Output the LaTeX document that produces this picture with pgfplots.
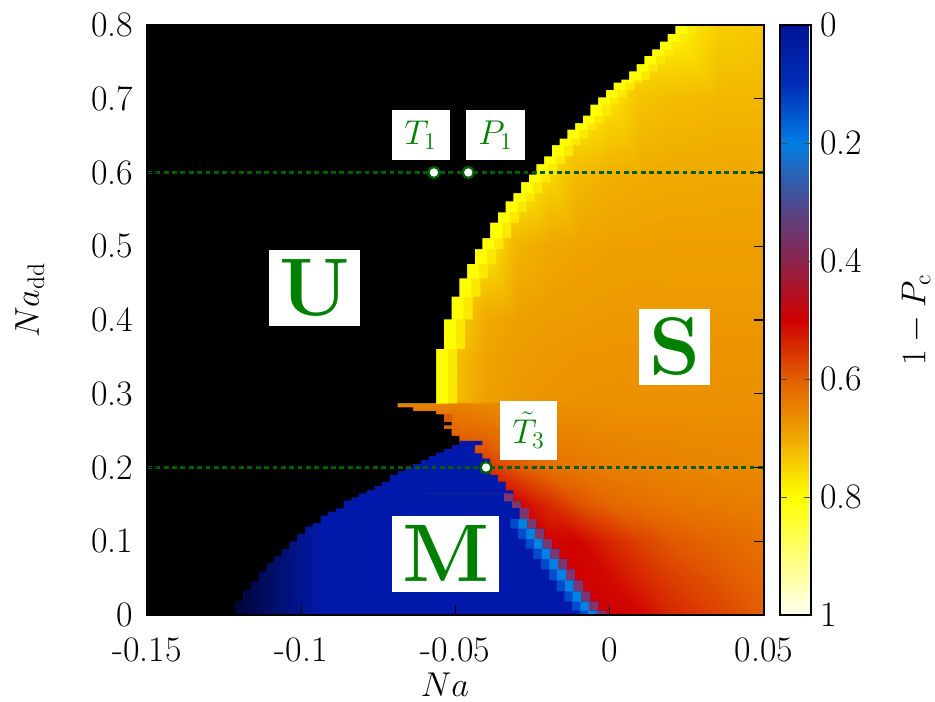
\documentclass[border=0pt]{standalone}
\usepackage{pgfplots}
\pgfplotsset{compat=1.18}
\usepackage{pgfplotstable}

\definecolor{lgreen}{RGB}{0,128,0}
\definecolor{dgreen}{RGB}{0,95,0}
\definecolor{bmain}{RGB}{0,25,170}
\definecolor{bdark}{RGB}{0,5,55}
\definecolor{bdmid}{RGB}{0,15,115}
\definecolor{bmid}{RGB}{0,75,205}
\definecolor{blight}{RGB}{0,130,228}
\definecolor{bpurp}{RGB}{125,55,110}
\definecolor{yedge}{RGB}{255,255,0}
\definecolor{yband}{RGB}{251,234,0}
\definecolor{tbarA}{RGB}{222,92,0}
\definecolor{tbarB}{RGB}{226,108,0}

% upper unstable (black) region, above the tongue
\pgfplotstableread{
x y
-0.15 0.8
0.02125 0.8
0.02125 0.788
0.01875 0.788
0.01875 0.7775
0.01625 0.7775
0.01625 0.767
0.01375 0.767
0.01375 0.758
0.01125 0.758
0.01125 0.747
0.00875 0.747
0.00875 0.737
0.00625 0.737
0.00625 0.726
0.00375 0.726
0.00375 0.722
0.00125 0.722
0.00125 0.712
-0.00125 0.712
-0.00125 0.702
-0.00375 0.702
-0.00375 0.692
-0.00625 0.692
-0.00625 0.677
-0.00875 0.677
-0.00875 0.667
-0.01125 0.667
-0.01125 0.658
-0.01375 0.658
-0.01375 0.646
-0.01625 0.646
-0.01625 0.637
-0.01875 0.637
-0.01875 0.622
-0.02125 0.622
-0.02125 0.6115
-0.02375 0.6115
-0.02375 0.597
-0.02625 0.597
-0.02625 0.587
-0.02875 0.587
-0.02875 0.572
-0.03125 0.572
-0.03125 0.561
-0.03375 0.561
-0.03375 0.546
-0.03625 0.546
-0.03625 0.532
-0.03875 0.532
-0.03875 0.511
-0.04125 0.511
-0.04125 0.496
-0.04375 0.496
-0.04375 0.476
-0.04625 0.476
-0.04625 0.4565
-0.04875 0.4565
-0.04875 0.4316
-0.05125 0.4316
-0.05125 0.401
-0.05375 0.401
-0.05375 0.3607
-0.05625 0.3607
-0.05625 0.287
-0.15 0.287
}\upperblack

% lower unstable (black) region with the tongue
\pgfplotstableread{
x y
-0.15 0.29
-0.06875 0.29
-0.06875 0.2815
-0.06375 0.2815
-0.06375 0.2765
-0.05625 0.2765
-0.05625 0.272
-0.05375 0.272
-0.05375 0.262
-0.05125 0.262
-0.05125 0.257
-0.05375 0.257
-0.05375 0.2525
-0.05125 0.2525
-0.05125 0.243
-0.04875 0.243
-0.04875 0
-0.15 0
}\lowerblack

% metastable (blue) region
\pgfplotstableread{
x y
-0.04875 0.236
-0.04125 0.236
-0.04125 0.2305
-0.04375 0.2305
-0.04375 0.219
-0.04125 0.219
-0.04125 0.212
-0.03875 0.212
-0.03875 0.19
-0.03625 0.19
-0.03625 0.181
-0.03375 0.181
-0.03375 0.169
-0.03125 0.169
-0.03125 0.154
-0.02875 0.154
-0.02875 0.145
-0.02625 0.145
-0.02625 0.13
-0.02375 0.13
-0.02375 0.117
-0.02125 0.117
-0.02125 0.103
-0.01875 0.103
-0.01875 0.09
-0.01625 0.09
-0.01625 0.076
-0.01375 0.076
-0.01375 0.062
-0.01125 0.062
-0.01125 0.047
-0.00875 0.047
-0.00875 0.032
-0.00625 0.032
-0.00625 0.018
-0.00375 0.018
-0.00375 0.006
-0.00125 0.006
-0.00125 0
-0.12125 0
-0.12125 0.018
-0.11875 0.018
-0.11875 0.033
-0.11625 0.033
-0.11625 0.045
-0.11375 0.045
-0.11375 0.0587
-0.11125 0.0587
-0.11125 0.070
-0.10875 0.070
-0.10875 0.079
-0.10625 0.079
-0.10625 0.089
-0.10375 0.089
-0.10375 0.0994
-0.10125 0.0994
-0.10125 0.1094
-0.09875 0.1094
-0.09875 0.1197
-0.09625 0.1197
-0.09625 0.1243
-0.09375 0.1243
-0.09375 0.1346
-0.09125 0.1346
-0.09125 0.140
-0.08875 0.140
-0.08875 0.1446
-0.08625 0.1446
-0.08625 0.1546
-0.08375 0.1546
-0.08375 0.1595
-0.08125 0.1595
-0.08125 0.165
-0.07875 0.165
-0.07875 0.1695
-0.07625 0.1695
-0.07625 0.1749
-0.07375 0.1749
-0.07375 0.1807
-0.07125 0.1807
-0.07125 0.1898
-0.06875 0.1898
-0.06875 0.195
-0.06625 0.195
-0.06625 0.1997
-0.06375 0.1997
-0.06375 0.2047
-0.06125 0.2047
-0.06125 0.210
-0.05875 0.210
-0.05875 0.2156
-0.05625 0.2156
-0.05625 0.220
-0.05375 0.220
-0.05375 0.225
-0.05125 0.225
-0.05125 0.2305
-0.04875 0.2305
}\blueregion

% dark left part of the blue region
\pgfplotstableread{
x y
-0.12125 0
-0.12125 0.018
-0.11875 0.018
-0.11875 0.033
-0.11625 0.033
-0.11625 0.045
-0.11375 0.045
-0.11375 0.0587
-0.11125 0.0587
-0.11125 0.070
-0.10875 0.070
-0.10875 0.079
-0.10625 0.079
-0.10625 0.089
-0.10375 0.089
-0.10375 0.0994
-0.10125 0.0994
-0.10125 0.1094
-0.09875 0.1094
-0.09875 0.1197
-0.09625 0.1197
-0.09625 0.1243
-0.09375 0.1243
-0.09375 0
}\darkpart

% lower right edge of the blue region (fringe)
\pgfplotstableread{
x y
-0.06 0.165
-0.03125 0.165
-0.03125 0.154
-0.02875 0.154
-0.02875 0.145
-0.02625 0.145
-0.02625 0.13
-0.02375 0.13
-0.02375 0.117
-0.02125 0.117
-0.02125 0.103
-0.01875 0.103
-0.01875 0.09
-0.01625 0.09
-0.01625 0.076
-0.01375 0.076
-0.01375 0.062
-0.01125 0.062
-0.01125 0.047
-0.00875 0.047
-0.00875 0.032
-0.00625 0.032
-0.00625 0.018
-0.00375 0.018
-0.00375 0.006
-0.00125 0.006
-0.00125 0
-0.06 0
}\fringe

\pgfplotstableread{
x y
-0.06 0.13
-0.02375 0.13
-0.02375 0.117
-0.02125 0.117
-0.02125 0.103
-0.01875 0.103
-0.01875 0.09
-0.01625 0.09
-0.01625 0.076
-0.01375 0.076
-0.01375 0.062
-0.01125 0.062
-0.01125 0.047
-0.00875 0.047
-0.00875 0.032
-0.00625 0.032
-0.00625 0.018
-0.00375 0.018
-0.00375 0.006
-0.00125 0.006
-0.00125 0
-0.06 0
}\fringelow

\begin{document}
\begin{tikzpicture}
\begin{axis}[
  name=main,
  scale only axis, width=308.5bp, height=295bp,
  xmin=-0.15, xmax=0.05, ymin=0, ymax=0.8,
  axis background/.style={fill=black},
  axis on top,
  tick align=inside,
  major tick length=5bp,
  every tick/.style={black, line width=0.6pt},
  axis line style={line width=0.7pt},
  xtick={-0.15,-0.1,-0.05,0,0.05},
  xticklabels={-0.15,-0.1,-0.05,0,0.05},
  ytick={0,0.1,0.2,0.3,0.4,0.5,0.6,0.7,0.8},
  yticklabels={0,0.1,0.2,0.3,0.4,0.5,0.6,0.7,0.8},
  tick label style={font=\fontsize{18}{21}\selectfont},
  xticklabel style={yshift=-8bp},
  yticklabel style={xshift=-3.5bp},
  xlabel={$Na$}, ylabel={$Na_{\mathrm{dd}}$},
  label style={font=\fontsize{18}{21}\selectfont, inner sep=1bp},
  xlabel style={at={(axis description cs:0.483,-0.1186)}, anchor=center},
  ylabel style={at={(axis description cs:-0.19,0.534)}, anchor=center},
  colormap={pc}{rgb255=(0,20,150) rgb255=(0,45,185) rgb255=(0,125,225)
    rgb255=(75,75,145) rgb255=(140,35,75) rgb255=(208,0,0) rgb255=(226,95,0)
    rgb255=(240,168,0) rgb255=(255,255,0) rgb255=(255,255,120) rgb255=(255,255,240)},
  point meta min=0, point meta max=1,
  colorbar,
  colorbar style={
    name=cbar,
    width=15.5bp,
    at={(parent axis.north east)}, anchor=north west, xshift=-0.5bp,
    y dir=reverse,
    ytick={0,0.2,0.4,0.6,0.8,1},
    yticklabels={0,0.2,0.4,0.6,0.8,1},
    yticklabel style={font=\fontsize{18}{21}\selectfont, xshift=1bp},
    ytick pos=both, yticklabel pos=right,
    tick align=inside, major tick length=3.5bp,
    every tick/.style={black!70, line width=0.5pt},
    axis line style={line width=0.7pt},
    ylabel={$1-P_{\mathrm{c}}$},
    ylabel style={font=\fontsize{18}{21}\selectfont, inner sep=1bp, at={(axis description cs:4.39,0.5)}, anchor=center},
  },
]
% stable region: 1-Pc values on a coarse grid
\addplot[surf, shader=interp, mesh/rows=14, mesh/cols=12, point meta=explicit]
  table[row sep=\\, meta=v] {
x y v\\
-0.07 0 0.5\\ -0.06 0 0.5\\ -0.05 0 0.5\\ -0.04 0 0.5\\ -0.03 0 0.5\\ -0.02 0 0.5\\ -0.01 0 0.5\\ 0 0 0.5\\ 0.01 0 0.505\\ 0.02 0 0.54\\ 0.035 0 0.57\\ 0.05 0 0.60\\
-0.07 0.05 0.5\\ -0.06 0.05 0.5\\ -0.05 0.05 0.5\\ -0.04 0.05 0.5\\ -0.03 0.05 0.5\\ -0.02 0.05 0.5\\ -0.01 0.05 0.5\\ 0 0.05 0.51\\ 0.01 0.05 0.54\\ 0.02 0.05 0.565\\ 0.035 0.05 0.59\\ 0.05 0.05 0.612\\
-0.07 0.1 0.5\\ -0.06 0.1 0.5\\ -0.05 0.1 0.5\\ -0.04 0.1 0.5\\ -0.03 0.1 0.5\\ -0.02 0.1 0.5\\ -0.01 0.1 0.505\\ 0 0.1 0.54\\ 0.01 0.1 0.57\\ 0.02 0.1 0.592\\ 0.035 0.1 0.61\\ 0.05 0.1 0.625\\
-0.07 0.15 0.5\\ -0.06 0.15 0.5\\ -0.05 0.15 0.5\\ -0.04 0.15 0.5\\ -0.03 0.15 0.5\\ -0.02 0.15 0.545\\ -0.01 0.15 0.585\\ 0 0.15 0.61\\ 0.01 0.15 0.622\\ 0.02 0.15 0.63\\ 0.035 0.15 0.637\\ 0.05 0.15 0.643\\
-0.07 0.2 0.56\\ -0.06 0.2 0.56\\ -0.05 0.2 0.56\\ -0.04 0.2 0.555\\ -0.03 0.2 0.59\\ -0.02 0.2 0.62\\ -0.01 0.2 0.632\\ 0 0.2 0.64\\ 0.01 0.2 0.645\\ 0.02 0.2 0.648\\ 0.035 0.2 0.652\\ 0.05 0.2 0.655\\
-0.07 0.25 0.61\\ -0.06 0.25 0.61\\ -0.05 0.25 0.61\\ -0.04 0.25 0.62\\ -0.03 0.25 0.635\\ -0.02 0.25 0.645\\ -0.01 0.25 0.652\\ 0 0.25 0.655\\ 0.01 0.25 0.657\\ 0.02 0.25 0.658\\ 0.035 0.25 0.66\\ 0.05 0.25 0.66\\
-0.07 0.286 0.645\\ -0.06 0.286 0.645\\ -0.05 0.286 0.645\\ -0.04 0.286 0.655\\ -0.03 0.286 0.662\\ -0.02 0.286 0.665\\ -0.01 0.286 0.667\\ 0 0.286 0.668\\ 0.01 0.286 0.668\\ 0.02 0.286 0.668\\ 0.035 0.286 0.667\\ 0.05 0.286 0.666\\
-0.07 0.29 0.79\\ -0.06 0.29 0.79\\ -0.05 0.29 0.725\\ -0.04 0.29 0.69\\ -0.03 0.29 0.678\\ -0.02 0.29 0.672\\ -0.01 0.29 0.669\\ 0 0.29 0.668\\ 0.01 0.29 0.667\\ 0.02 0.29 0.667\\ 0.035 0.29 0.667\\ 0.05 0.29 0.667\\
-0.07 0.35 0.79\\ -0.06 0.35 0.79\\ -0.05 0.35 0.728\\ -0.04 0.35 0.694\\ -0.03 0.35 0.682\\ -0.02 0.35 0.677\\ -0.01 0.35 0.674\\ 0 0.35 0.673\\ 0.01 0.35 0.672\\ 0.02 0.35 0.672\\ 0.035 0.35 0.672\\ 0.05 0.35 0.672\\
-0.07 0.4 0.79\\ -0.06 0.4 0.79\\ -0.05 0.4 0.75\\ -0.04 0.4 0.701\\ -0.03 0.4 0.689\\ -0.02 0.4 0.6835\\ -0.01 0.4 0.680\\ 0 0.4 0.678\\ 0.01 0.4 0.677\\ 0.02 0.4 0.677\\ 0.035 0.4 0.677\\ 0.05 0.4 0.677\\
-0.07 0.5 0.79\\ -0.06 0.5 0.79\\ -0.05 0.5 0.79\\ -0.04 0.5 0.77\\ -0.03 0.5 0.714\\ -0.02 0.5 0.700\\ -0.01 0.5 0.694\\ 0 0.5 0.690\\ 0.01 0.5 0.689\\ 0.02 0.5 0.688\\ 0.035 0.5 0.688\\ 0.05 0.5 0.688\\
-0.07 0.6 0.79\\ -0.06 0.6 0.79\\ -0.05 0.6 0.79\\ -0.04 0.6 0.79\\ -0.03 0.6 0.79\\ -0.02 0.6 0.755\\ -0.01 0.6 0.72\\ 0 0.6 0.709\\ 0.01 0.6 0.704\\ 0.02 0.6 0.702\\ 0.035 0.6 0.70\\ 0.05 0.6 0.70\\
-0.07 0.7 0.79\\ -0.06 0.7 0.79\\ -0.05 0.7 0.79\\ -0.04 0.7 0.79\\ -0.03 0.7 0.79\\ -0.02 0.7 0.79\\ -0.01 0.7 0.79\\ 0 0.7 0.765\\ 0.01 0.7 0.731\\ 0.02 0.7 0.723\\ 0.035 0.7 0.718\\ 0.05 0.7 0.716\\
-0.07 0.8 0.79\\ -0.06 0.8 0.79\\ -0.05 0.8 0.79\\ -0.04 0.8 0.79\\ -0.03 0.8 0.79\\ -0.02 0.8 0.79\\ -0.01 0.8 0.79\\ 0 0.8 0.79\\ 0.01 0.8 0.79\\ 0.02 0.8 0.79\\ 0.035 0.8 0.745\\ 0.05 0.8 0.735\\
};
% bright yellow edge of the stable region
\addplot[fill=yband, draw=none] table[x expr=\thisrow{x}+0.0068, y=y] {\upperblack};
\addplot[fill=yedge, draw=none] table[x expr=\thisrow{x}+0.0038, y=y] {\upperblack};
% darker cells in the tongue
\addplot[fill=tbarA, draw=none] coordinates {(-0.05375,0.262) (-0.05125,0.262) (-0.05125,0.272) (-0.05375,0.272)};
\addplot[fill=tbarB, draw=none] coordinates {(-0.04875,0.248) (-0.03625,0.248) (-0.03625,0.2525) (-0.04875,0.2525)};
% unstable region
\addplot[fill=black, draw=none] table {\upperblack};
\addplot[fill=black, draw=none] table {\lowerblack};
% metastable region
\addplot[fill=bmain, draw=none] table {\blueregion};
\addplot[draw=none, left color=bdark, middle color=bdmid, right color=bmain] table {\darkpart};
\addplot[fill=bpurp, draw=none] table {\fringe};
\addplot[fill=bmain, draw=none] table[x expr=\thisrow{x}-0.003, y=y] {\fringe};
\addplot[fill=blight, draw=none] table[x expr=\thisrow{x}-0.003, y=y] {\fringelow};
\addplot[fill=bmid, draw=none] table[x expr=\thisrow{x}-0.0058, y=y] {\fringelow};
\addplot[fill=bmain, draw=none] table[x expr=\thisrow{x}-0.0085, y=y] {\fringelow};
% cuts
\addplot[dgreen, line width=1.5pt, dash pattern=on 2.4pt off 1.8pt] coordinates {(-0.15,0.6) (0.05,0.6)};
\addplot[dgreen, line width=1.5pt, dash pattern=on 2.4pt off 1.8pt] coordinates {(-0.15,0.2) (0.05,0.2)};
\addplot[only marks, mark=*, mark size=2.8pt, mark options={fill=white, draw=dgreen, line width=1.2pt}]
  coordinates {(-0.0570,0.6) (-0.04585,0.6) (-0.0401,0.2)};
% labels
\node[fill=white, text=lgreen, inner sep=0, minimum width=45.5bp, minimum height=38bp, font=\fontsize{41}{44}\selectfont\bfseries] at (axis cs:-0.0957,0.4437) {U};
\node[fill=white, text=lgreen, inner sep=0, minimum width=35.5bp, minimum height=38bp, font=\fontsize{41}{44}\selectfont\bfseries] at (axis cs:0.0210,0.3637) {S};
\node[fill=white, text=lgreen, inner sep=0, minimum width=53.5bp, minimum height=38bp, font=\fontsize{41}{44}\selectfont\bfseries] at (axis cs:-0.0532,0.083) {M};
\node[fill=white, text=lgreen, inner sep=0, minimum width=29bp, minimum height=25bp, font=\fontsize{18.5}{20}\selectfont] at (axis cs:-0.0613,0.6508) {$T_1$};
\node[fill=white, text=lgreen, inner sep=0, minimum width=29.5bp, minimum height=25bp, font=\fontsize{18.5}{20}\selectfont] at (axis cs:-0.0370,0.6508) {$P_1$};
\node[fill=white, text=lgreen, inner sep=0, minimum width=28.5bp, minimum height=29.5bp, font=\fontsize{18.5}{20}\selectfont] at (axis cs:-0.0263,0.250) {$\tilde{T}_3$};
\end{axis}
\pgfresetboundingbox
\path[use as bounding box] (main.south west) ++(-73.5bp,-43.5bp) rectangle ++(467.5bp,351bp);
\end{tikzpicture}
\end{document}
